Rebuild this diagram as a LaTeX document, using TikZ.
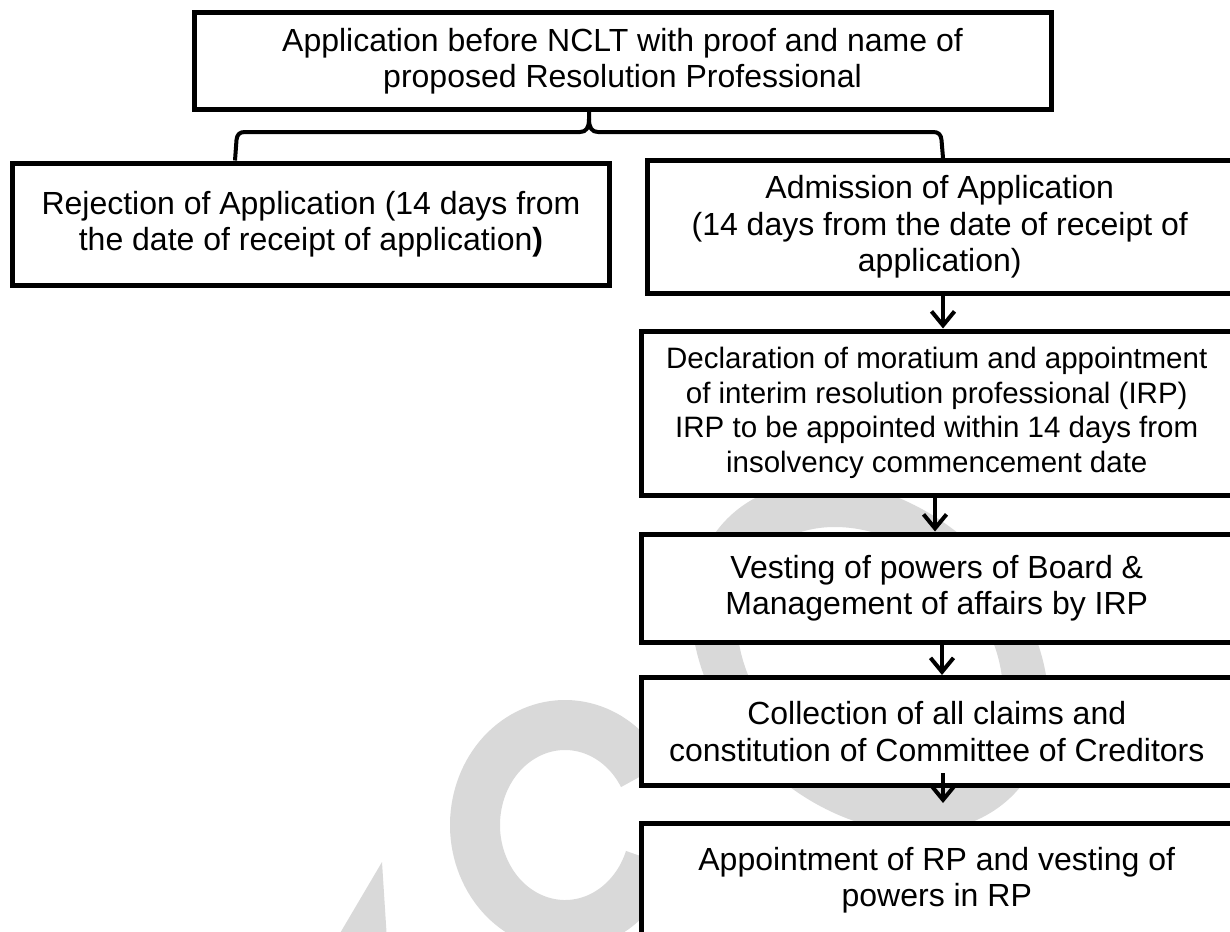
\documentclass[tikz,border=0pt]{standalone}
\usepackage{fontspec}
\setmainfont{Liberation Sans}
\usetikzlibrary{arrows.meta,calc}
\definecolor{wmgray}{RGB}{217,217,217}
\tikzset{
  box/.style={draw, line width=5pt, fill=white, align=center, inner sep=0pt,
    font=\fontsize{32}{36.5}\selectfont},
  smalltext/.style={font=\fontsize{29.5}{34.5}\selectfont},
  arr/.style={line width=4pt, -{Straight Barb[length=14pt,width=23pt]}},
  brace/.style={line width=4pt, line join=round},
  wm/.style={fill=wmgray}
}
\begin{document}
\begin{tikzpicture}[x=1pt,y=-1pt]
\useasboundingbox (0,0) rectangle (1230,931);
\clip (0,0) rectangle (1230,931);

% faint watermark behind the chart
\begin{scope}[shift={(870,657)}, xslant=-0.27]
  \fill[wm, even odd rule] (0,0) ellipse [x radius=172, y radius=175]
                           (0,0) ellipse [x radius=128, y radius=130];
\end{scope}
\draw[wmgray, line width=50pt] (565,825) ++(-30:90 and 100)
  arc[start angle=-30, end angle=-340, x radius=90, y radius=100];
\fill[wm] (336,940) -- (382,862) -- (387,940) -- cycle;

% boxes
\node[box, minimum width=857pt, minimum height=97pt] (top) at (622.5,61)
  {Application before NCLT with proof and name of\\proposed Resolution Professional};
\node[box, minimum width=597pt, minimum height=122pt] (rej) at (311,224)
  {Rejection of Application (14 days from\\the date of receipt of application\textbf{)}};
\node[box, minimum width=584.5pt, minimum height=133pt] (adm) at (939.75,227)
  {Admission of Application\\(14 days from the date of receipt of\\application)};
\node[box, smalltext, minimum width=590.5pt, minimum height=164pt] (decl) at (936.75,413)
  {Declaration of moratium and appointment\\of interim resolution professional (IRP)\\IRP to be appointed within 14 days from\\insolvency commencement date};
\node[box, minimum width=590.5pt, minimum height=108pt] (vest) at (936.75,588)
  {Vesting of powers of Board \&\\Management of affairs by IRP};
\node[box, minimum width=590.5pt, minimum height=108pt] (coll) at (936.75,731.5)
  {Collection of all claims and\\constitution of Committee of Creditors};
\node[box, minimum width=590.5pt, minimum height=113pt] (app) at (936.75,880)
  {Appointment of RP and vesting of\\powers in RP};

% brace splitting the application into its two outcomes
\coordinate (tip) at (top.south -| 589,0);
\coordinate (brL) at (rej.north -| 235,0);
\coordinate (brR) at (adm.north -| 943,0);
\coordinate (mid) at (589,119);
\draw[brace] (brL) -- (236.5,140) .. controls (237,134.5) and (239.5,132) .. (245,132)
  -- (580,132) .. controls (586,132) and (589,128) .. (mid) -- (tip);
\draw[brace] (mid) .. controls (589,128) and (592,132) .. (598,132)
  -- (933,132) .. controls (938.5,132) and (941,134.5) .. (941.5,140) -- (brR);

% flow of the admitted application
\draw[arr] (adm.south -| 943,0) -- (decl.north -| 943,0);
\draw[arr] (decl.south -| 935,0) -- (vest.north -| 935,0);
\draw[arr] (vest.south -| 942,0) -- (coll.north -| 942,0);
\draw[arr] ($(coll.south -| 943,0)+(0,-15)$) -- ($(coll.south -| 943,0)+(0,15)$);
\end{tikzpicture}
\end{document}
